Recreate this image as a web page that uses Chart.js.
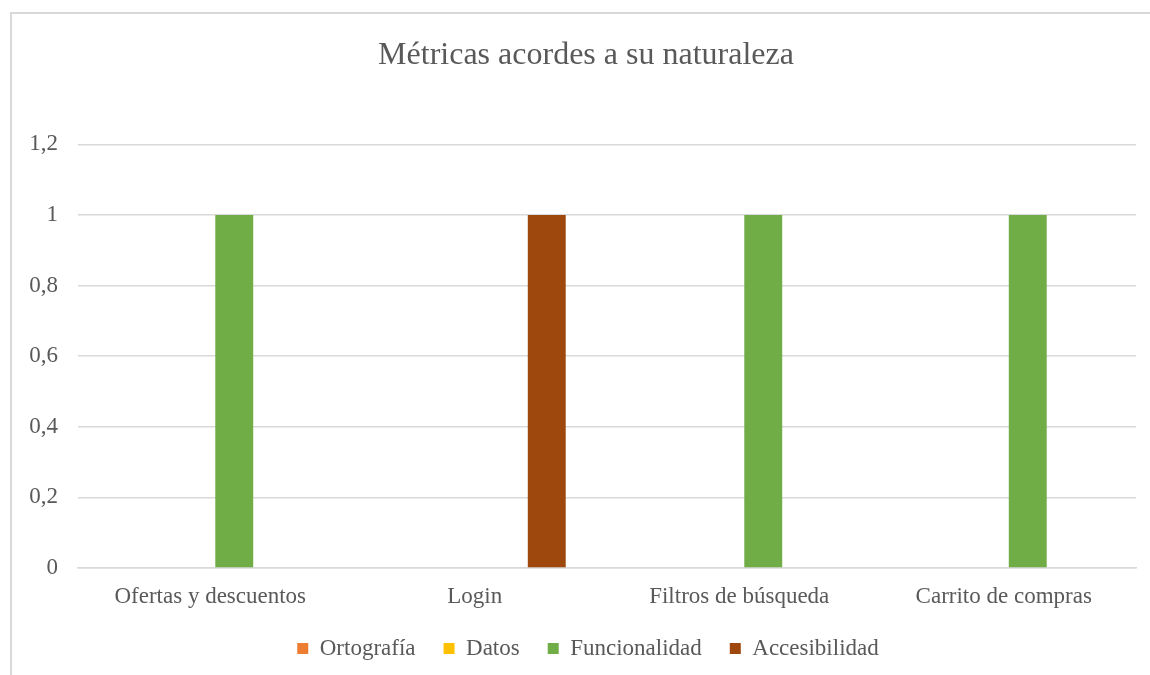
<!DOCTYPE html>
<html lang="es">
<head>
<meta charset="utf-8">
<title>Métricas acordes a su naturaleza</title>
<script src="https://cdn.jsdelivr.net/npm/chart.js@4/dist/chart.umd.min.js"></script>
<style>
  html, body { margin: 0; padding: 0; background: #fff; overflow: hidden; }
  #frame {
    position: absolute; left: 10px; top: 12px;
    width: 1300px; height: 800px;
    border-left: 2px solid #d9d9d9; border-top: 2px solid #d9d9d9;
  }
  #wrap { position: absolute; left: 0; top: 0; width: 1150px; height: 675px; }
</style>
</head>
<body>
<div id="frame"></div>
<div id="wrap"><canvas id="myChart"></canvas></div>
<script>
// categorias del eje x
const categorias = ["Ofertas y descuentos", "Login", "Filtros de búsqueda", "Carrito de compras"];

// valores por serie
const ortografia = [0, 0, 0, 0];
const datos = [0, 0, 0, 0];
const funcionalidad = [1, 0, 1, 1];
const accesibilidad = [0, 1, 0, 0];

const gris = "#595959";
const serif = "'Liberation Serif', 'Times New Roman', serif";

// corre titulo y leyenda un poco a la derecha, centrados sobre el area de trazado
const centrarCajas = {
  id: "centrarCajas",
  beforeDraw(chart) {
    [[chart.legend, 20], [chart.titleBlock, 18]].forEach(([caja, dx]) => {
      if (caja && !caja._movida) {
        caja.left += dx;
        caja.right += dx;
        caja._movida = true;
      }
    });
  },
};

const ctx = document.getElementById("myChart").getContext("2d");

new Chart(ctx, {
  type: "bar",
  data: {
    labels: categorias,
    datasets: [
      { label: "Ortografía", data: ortografia, backgroundColor: "#ED7D31" },
      { label: "Datos", data: datos, backgroundColor: "#FFC000" },
      { label: "Funcionalidad", data: funcionalidad, backgroundColor: "#70AD47" },
      { label: "Accesibilidad", data: accesibilidad, backgroundColor: "#9E480E" },
    ],
  },
  plugins: [centrarCajas],
  options: {
    responsive: true,
    maintainAspectRatio: false,
    animation: false,
    datasets: {
      bar: { barPercentage: 0.79, categoryPercentage: 0.726 },
    },
    layout: { padding: { left: 0, right: 14, top: 20, bottom: 5 } },
    plugins: {
      title: {
        display: true,
        text: "Métricas acordes a su naturaleza",
        color: gris,
        font: { family: serif, size: 32, weight: "normal" },
        padding: { top: 16, bottom: 70 },
      },
      legend: {
        position: "bottom",
        labels: {
          color: gris,
          font: { family: serif, size: 23 },
          boxWidth: 11,
          boxHeight: 11,
          padding: 28,
        },
      },
      tooltip: { enabled: false },
    },
    scales: {
      x: {
        // alto fijo del eje para dejar la leyenda cerca de las etiquetas
        afterFit: (scale) => { scale.height = 41; },
        grid: { display: false, drawTicks: false },
        border: { color: "#d9d9d9", width: 1.5 },
        ticks: { color: gris, font: { family: serif, size: 23, lineHeight: 1 }, padding: 17, maxRotation: 0 },
      },
      y: {
        min: 0,
        max: 1.2,
        afterFit: (scale) => { scale.width = 78; },
        grid: { color: "#d9d9d9", lineWidth: 1.5, drawTicks: false },
        border: { display: false },
        ticks: {
          stepSize: 0.2,
          color: gris,
          font: { family: serif, size: 23 },
          padding: 20,
          callback: (v) => (Math.round(v * 10) / 10).toString().replace(".", ","),
        },
      },
    },
  },
});
</script>
</body>
</html>
